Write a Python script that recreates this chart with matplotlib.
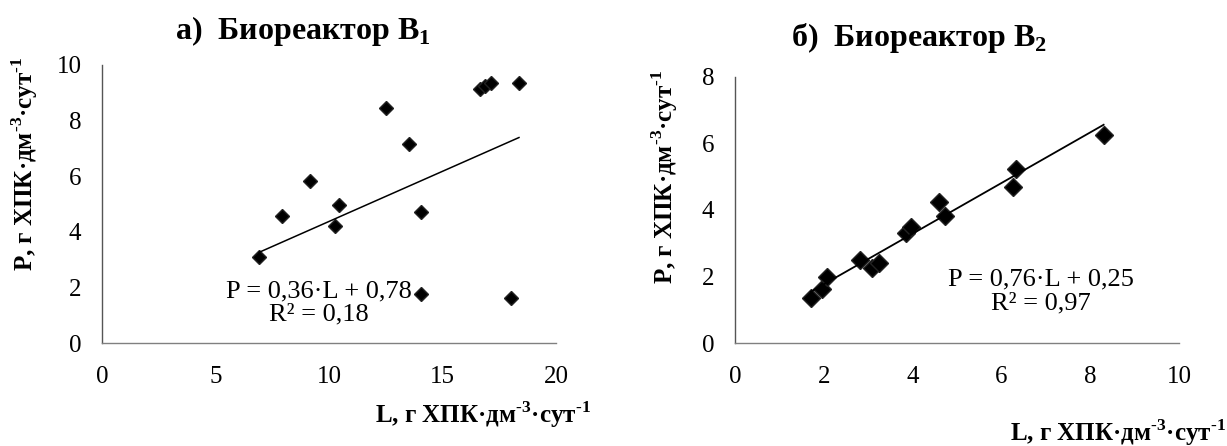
import numpy as np
import matplotlib
matplotlib.use("Agg")
import matplotlib.pyplot as plt

plt.rcParams['font.family'] = ['Liberation Serif', 'DejaVu Serif']
plt.rcParams['mathtext.fontset'] = 'custom'
plt.rcParams['mathtext.rm'] = 'Liberation Serif'
plt.rcParams['mathtext.bf'] = 'Liberation Serif:bold'

# Биореактор B1
L1 = [6.92, 7.90, 9.15, 10.25, 10.44, 12.50, 13.52, 14.04, 14.04, 16.64, 16.86, 17.12, 18.37, 18.00]
P1 = [3.09, 4.59, 5.84, 4.22, 4.96, 8.47, 7.15, 4.71, 1.76, 9.14, 9.26, 9.34, 9.35, 1.62]
k1, b1 = 0.36, 0.78

# Биореактор B2
L2 = [1.71, 1.95, 2.08, 2.82, 3.08, 3.25, 3.85, 3.96, 4.59, 4.73, 6.25, 6.32, 8.30]
P2 = [1.35, 1.62, 1.98, 2.50, 2.25, 2.42, 3.32, 3.48, 4.25, 3.82, 4.70, 5.22, 6.25]
k2, b2 = 0.76, 0.25

# hyphen (U+2010) instead of mathtext minus
xlabel = 'L, г ХПК·дм$^{\\mathbf{\u20103}}$·сут$^{\\mathbf{\u20101}}$'
ylabel = 'P, г ХПК·дм$^{\\mathbf{\u20103}}$·сут$^{\\mathbf{\u20101}}$'

fig = plt.figure(figsize=(12.27, 4.46), dpi=100)
ax1 = fig.add_axes([0.0834, 0.2303, 0.3697, 0.624])
ax2 = fig.add_axes([0.599, 0.2303, 0.362, 0.5977])


def style(ax):
    for s in ['top', 'right']:
        ax.spines[s].set_visible(False)
    ax.spines['left'].set_color('#555555')
    ax.spines['bottom'].set_color('#808080')
    for s in ['left', 'bottom']:
        ax.spines[s].set_linewidth(1.0)
    ax.tick_params(length=0, labelsize=18)
    ax.tick_params(axis='x', pad=16)
    ax.tick_params(axis='y', pad=15)


# а)
ax1.plot(L1, P1, 'D', color='black', markersize=7, markeredgecolor='#222222')
xx = np.array([min(L1), max(L1)])
ax1.plot(xx, k1 * xx + b1, color='black', lw=1.1)
ax1.set_xlim(0, 20)
ax1.set_ylim(0, 10)
ax1.set_xticks([0, 5, 10, 15, 20])
ax1.set_yticks([0, 2, 4, 6, 8, 10])
style(ax1)
ax1.text(9.55, 1.45, 'P = 0,36·L + 0,78\nR² = 0,18', ha='center', va='center',
         fontsize=19, linespacing=1.1)

# б)
ax2.plot(L2, P2, 'D', color='black', markersize=9, markeredgecolor='#222222')
xx = np.array([min(L2), max(L2)])
ax2.plot(xx, k2 * xx + b2, color='black', lw=1.3)
ax2.set_xlim(0, 10)
ax2.set_ylim(0, 8)
ax2.set_xticks([0, 2, 4, 6, 8, 10])
ax2.set_yticks([0, 2, 4, 6, 8])
style(ax2)
ax2.text(6.89, 1.55, 'P = 0,76·L + 0,25\nR² = 0,97', ha='center', va='center',
         fontsize=19, linespacing=1.1)

fig.text(0.2465, 0.912, 'а)  Биореактор B$_{\\mathbf{1}}$', ha='center', va='baseline',
         fontsize=23, fontweight='bold')
fig.text(0.749, 0.896, 'б)  Биореактор B$_{\\mathbf{2}}$', ha='center', va='baseline',
         fontsize=23, fontweight='bold')

fig.text(0.0204, 0.632, ylabel, rotation=90, ha='center', va='center',
         fontsize=18, fontweight='bold')
fig.text(0.542, 0.603, ylabel, rotation=90, ha='center', va='center',
         fontsize=18, fontweight='bold')

fig.text(0.4817, 0.0695, xlabel, ha='right', va='center', fontsize=18, fontweight='bold')
fig.text(0.999, 0.029, xlabel, ha='right', va='center', fontsize=18, fontweight='bold')

fig.savefig('out.png', dpi=100)
